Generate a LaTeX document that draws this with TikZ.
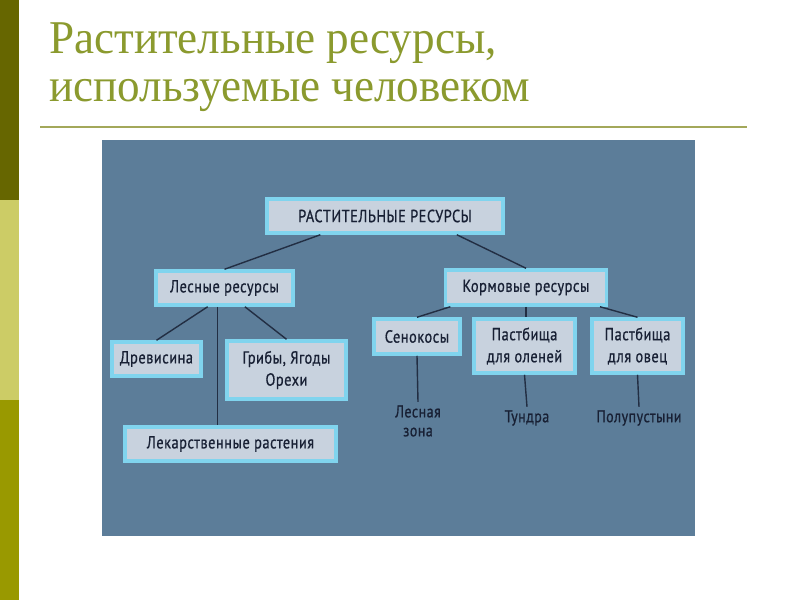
\documentclass[tikz,border=0pt]{standalone}
\usepackage{fontspec}
\setmainfont{Liberation Serif}[FakeStretch=0.96]
\newfontfamily\boxfont{PT Sans}[FakeStretch=0.82, LetterSpace=3, FakeBold=0.8]
\usetikzlibrary{calc}

\definecolor{barDark}{RGB}{102,102,0}
\definecolor{barLight}{RGB}{204,204,102}
\definecolor{barOlive}{RGB}{153,153,0}
\definecolor{titleOlive}{RGB}{139,154,46}
\definecolor{ruleOlive}{RGB}{163,168,90}
\definecolor{panelBlue}{RGB}{92,125,153}
\definecolor{boxFill}{RGB}{200,210,222}
\definecolor{boxEdge}{RGB}{128,212,238}
\definecolor{inkNavy}{RGB}{24,32,52}

\tikzset{
  resbox/.style={draw=boxEdge, line width=3.5pt, fill=boxFill, text=inkNavy,
    font=\boxfont\fontsize{17.5}{22}\selectfont, align=center, inner sep=0pt},
  reslabel/.style={text=inkNavy, font=\boxfont\fontsize{17}{19}\selectfont, align=center},
  link/.style={draw=inkNavy!85!panelBlue, line width=1.4pt}
}

\begin{document}
\begin{tikzpicture}[x=1pt, y=-1pt]

% Page frame (800 x 600)
\useasboundingbox (0,0) rectangle (800,600);
\fill[white] (0,0) rectangle (800,600);

% Left colour bar
\foreach \ya/\yb/\col in {0/200/barDark, 200/400/barLight, 400/600/barOlive}
{
  \fill[\col] (0,\ya) rectangle (19,\yb);
}

% Title
\node[anchor=base west, text=titleOlive, font=\fontsize{47}{56}\selectfont, inner sep=0pt]
  (title1) at (49,53) {Растительные ресурсы,};
\node[anchor=base west, text=titleOlive, font=\fontsize{47}{56}\selectfont, inner sep=0pt]
  (title2) at (49,101) {используемые человеком};

% Rule under the title
\draw[ruleOlive, line width=2pt] (40,127) -- (747,127);

% Blue panel
\fill[panelBlue] (102,140) rectangle (695,536);

% Boxes (top level)
\node[resbox, minimum width=236, minimum height=34] (plant) at (385,216) {РАСТИТЕЛЬНЫЕ РЕСУРСЫ};
\node[resbox, minimum width=137, minimum height=34] (forest) at (224.5,288) {Лесные ресурсы};
\node[resbox, minimum width=161, minimum height=35] (fodder) at (526,287.5) {Кормовые ресурсы};

% Boxes (forest branch)
\node[resbox, minimum width=89, minimum height=34] (wood) at (156.5,359) {Древисина};
\node[resbox, minimum width=119, minimum height=58] (berries) at (286.5,370) {Грибы, Ягоды\\Орехи};
\node[resbox, minimum width=211, minimum height=34] (herbs) at (230.5,444) {Лекарственные растения};

% Boxes (fodder branch)
\node[resbox, minimum width=86, minimum height=35] (hay) at (417,336.5) {Сенокосы};
\node[resbox, minimum width=101, minimum height=54] (deer) at (524.5,346) {Пастбища\\для оленей};
\node[resbox, minimum width=91, minimum height=54] (sheep) at (637.5,346) {Пастбища\\для овец};

% Zones under the pastures
\node[reslabel] (zone) at (418,421) {Лесная\\зона};
\node[reslabel] (tundra) at (527,418) {Тундра};
\node[reslabel] (desert) at (639,418) {Полупустыни};

% Connectors
\draw[link] ($(plant.south west)!0.23!(plant.south east)$) -- (forest.north);
\draw[link] ($(plant.south west)!0.8!(plant.south east)$) -- (fodder.north);
\draw[link] ($(forest.south west)!0.38!(forest.south east)$) -- (wood.north);
\coordinate (trunk) at ($(forest.south west)!0.45!(forest.south east)$);
\draw[link] (trunk) -- (trunk |- herbs.north);
\draw[link] ($(forest.south west)!0.645!(forest.south east)$) -- (berries.north);
\draw[link] ($(fodder.south west)!0.04!(fodder.south east)$) -- (hay.north);
\draw[link] (fodder.south) -- (fodder.south |- deer.north);
\draw[link] ($(fodder.south west)!0.95!(fodder.south east)$) -- (sheep.north);
\draw[link] (hay.south) -- (zone.north);
\draw[link] (deer.south) -- (tundra.north);
\draw[link] (sheep.south) -- (desert.north);

\end{tikzpicture}
\end{document}
